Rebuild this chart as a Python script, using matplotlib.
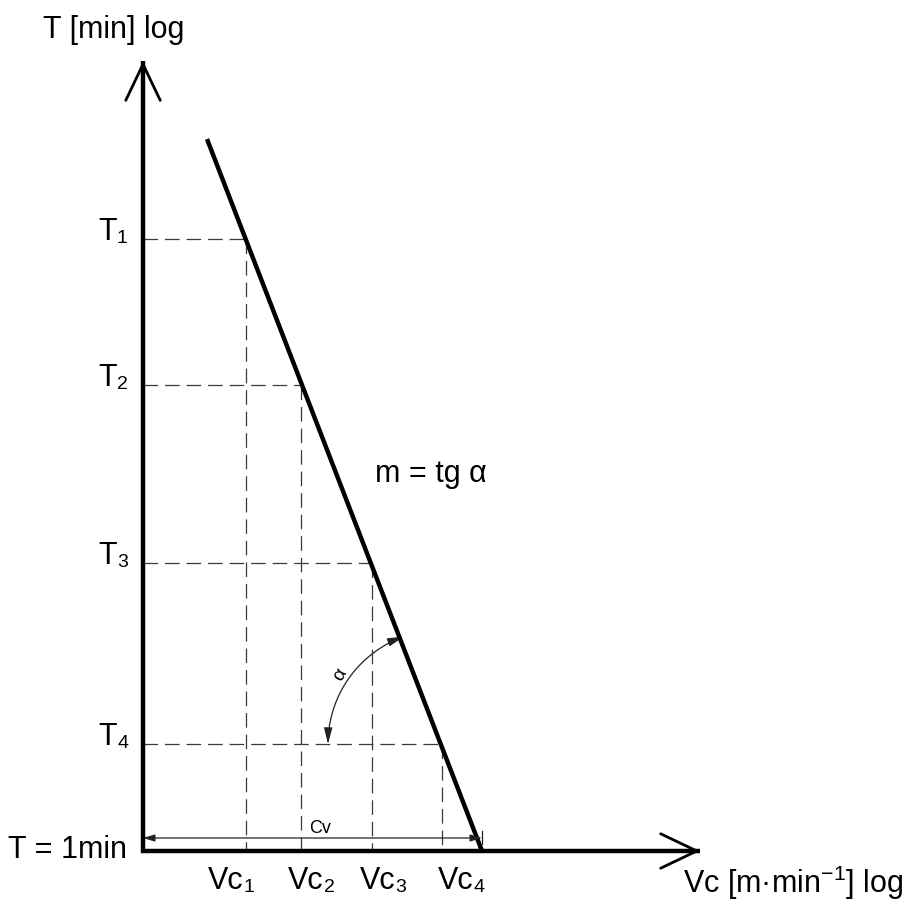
import numpy as np
import matplotlib.pyplot as plt
from matplotlib.patches import FancyArrowPatch
from matplotlib.path import Path

plt.rcParams.update({
    'font.family': ['Liberation Sans', 'DejaVu Sans'],
    'mathtext.fontset': 'custom',
    'mathtext.rm': 'Liberation Sans',
    'mathtext.it': 'Liberation Sans',
    'lines.scale_dashes': False,
})

# log-scale positions (1 unit = 100 px)
t_labels = ["1", "2", "3", "4"]
t_vals = [6.12, 4.66, 2.88, 1.07]
vc_labels = ["1", "2", "3", "4"]
vc_vals = [1.03, 1.58, 2.29, 2.99]
cv = 3.39          # intercept on the Vc axis (T = 1 min)
m = 2.589          # slope, m = tg alpha
x_top = 0.64       # start of the Taylor line
x_axis_end = 5.57
y_axis_end = 7.90

fig = plt.figure(figsize=(9.18, 9.03), dpi=100)
ax = fig.add_axes([0, 0, 1, 1])
ax.set_xlim(-1.43, 7.75)
ax.set_ylim(-0.51, 8.52)
ax.axis('off')

big = 22
small = 14
dash_kw = dict(color='#3a3a3a', lw=0.9, dashes=(10.5, 5))

# dashed guides
for tv, vc in zip(t_vals, vc_vals):
    ax.plot([0, vc], [tv, tv], **dash_kw)
    ax.plot([vc, vc], [tv, 0], **dash_kw)

# Taylor line
xs = np.array([x_top, cv])
ax.plot(xs, m * (cv - xs), color='black', lw=3.2, solid_capstyle='butt')

# axes
ax.plot([0, 0, x_axis_end], [y_axis_end, 0, 0], color='black', lw=3.2,
        solid_joinstyle='miter', solid_capstyle='butt')
head = dict(arrowstyle='->,head_length=1.3,head_width=0.62', lw=2.0, color='black',
            mutation_scale=20, shrinkA=0, shrinkB=0)
ax.annotate("", xy=(0, y_axis_end), xytext=(0, y_axis_end - 0.5), arrowprops=head)
ax.annotate("", xy=(x_axis_end, 0), xytext=(x_axis_end - 0.5, 0), arrowprops=head)

# Cv dimension
ax.annotate("", xy=(0, 0.13), xytext=(cv, 0.13),
            arrowprops=dict(arrowstyle='<|-|>,head_length=0.5,head_width=0.15', lw=0.9,
                            color='#222222', mutation_scale=14, shrinkA=0, shrinkB=0))
ax.plot([cv, cv], [0.07, 0.20], color='#222222', lw=0.9)
ax.text(1.66, 0.19, "Cv", fontsize=13, ha='left', va='baseline')

# angle alpha arc
r = 1.14
a0 = np.degrees(np.arctan2(m, -1.0))
ang = np.radians(np.linspace(a0 - 1.5, 180, 60))
arc = Path(np.column_stack([vc_vals[3] + r * np.cos(ang), t_vals[3] + r * np.sin(ang)]))
ax.add_patch(FancyArrowPatch(path=arc, arrowstyle='<|-|>,head_length=0.7,head_width=0.18',
                             mutation_scale=14, lw=0.9, color='#222222'))
ax.text(1.97, 1.77, "α", fontsize=14, rotation=60, ha='center', va='center')

# axis labels
ax.text(-0.29, 8.14, "T [min] log", fontsize=big, ha='center', va='baseline')
ax.text(5.40, -0.41, r"Vc [m·min$^{-1}$] log", fontsize=big, ha='left', va='baseline')
ax.text(-0.16, -0.06, "T = 1min", fontsize=big, ha='right', va='baseline')
ax.text(2.32, 3.70, "m = tg α", fontsize=big, ha='left', va='baseline')

# T ticks
for lab, tv in zip(t_labels, t_vals):
    tt = ax.text(-0.26, tv - 0.07, "T", fontsize=big, ha='right', va='bottom')
    ax.annotate(lab, xy=(1, 0), xycoords=tt, fontsize=small, ha='left', va='bottom')

# Vc ticks
vc_shift = [-0.38, -0.13, -0.12, -0.04]
for lab, vc, sh in zip(vc_labels, vc_vals, vc_shift):
    vt = ax.text(vc + sh, -0.44, "Vc", fontsize=big, ha='left', va='bottom')
    ax.annotate(lab, xy=(1, 0), xycoords=vt, fontsize=small, ha='left', va='bottom')

fig.savefig("out.png", dpi=100)
